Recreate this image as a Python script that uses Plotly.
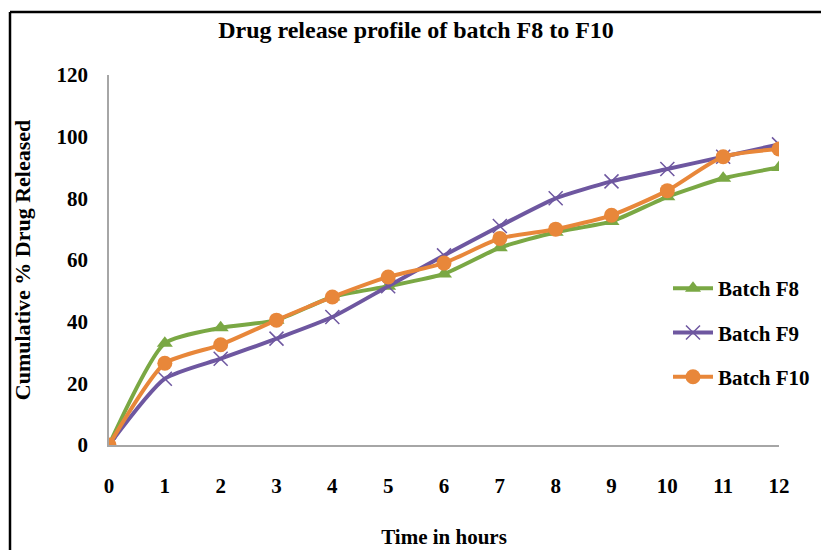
import plotly.graph_objects as go

hours = [0, 1, 2, 3, 4, 5, 6, 7, 8, 9, 10, 11, 12]
batch_f8 = [0, 33, 38, 40.5, 48, 51.5, 55.5, 64, 69, 72.5, 80.5, 86.5, 90]
batch_f9 = [0, 21.5, 28, 34.5, 41.5, 51.5, 61.5, 71, 80, 85.5, 89.5, 93.5, 97.5]
batch_f10 = [0, 26.5, 32.5, 40.5, 48, 54.5, 59, 67, 70, 74.5, 82.5, 93.5, 96]
y_ticks = [0, 20, 40, 60, 80, 100, 120]

title_text = "Drug release profile of batch F8 to F10"
x_title = "Time in hours"
y_title = "Cumulative % Drug Released"

GREEN = "#7AA844"
PURPLE = "#6E57A0"
ORANGE = "#E8873A"
FONT = "Liberation Serif"

fig = go.Figure()
fig.add_trace(go.Scatter(
    x=hours, y=batch_f8, name="<b>Batch F8</b>", mode="lines+markers",
    line=dict(color=GREEN, width=4, shape="spline", smoothing=0.6),
    marker=dict(symbol="triangle-up", size=14, color=GREEN),
    legendgroup="a"))
fig.add_trace(go.Scatter(
    x=hours, y=batch_f9, name="<b>Batch F9</b>", mode="lines+markers",
    line=dict(color=PURPLE, width=4, shape="spline", smoothing=0.6),
    marker=dict(symbol="x-thin", size=14, color=PURPLE,
                line=dict(color=PURPLE, width=1.5)),
    legendgroup="b"))
fig.add_trace(go.Scatter(
    x=hours, y=batch_f10, name="<b>Batch F10</b>", mode="lines+markers",
    line=dict(color=ORANGE, width=4, shape="spline", smoothing=0.6),
    marker=dict(symbol="circle", size=15, color=ORANGE),
    legendgroup="c"))

W, H = 821, 550
ml, mr, mt, mb = 109, 42, 75, 105
pw, ph = W - ml - mr, H - mt - mb

def px_x(p):
    return (p - ml) / pw

def px_y(p):
    return (H - mb - p) / ph

fig.update_layout(
    width=W, height=H,
    margin=dict(l=ml, r=mr, t=mt, b=mb, autoexpand=False),
    paper_bgcolor="white", plot_bgcolor="white",
    font=dict(family=FONT, color="black"),
    title=dict(text="<b>" + title_text + "</b>", x=px_x(416), xref="paper",
               xanchor="center", y=1 - 30 / H, yanchor="middle",
               font=dict(size=24, family=FONT), automargin=False),
    showlegend=True,
    legend=dict(x=px_x(668), y=px_y(268), xanchor="left", yanchor="top",
                xref="paper", yref="paper", bgcolor="rgba(0,0,0,0)",
                font=dict(size=21, family=FONT), tracegroupgap=14,
                itemwidth=40),
    xaxis=dict(range=[0, 12], tickmode="array", tickvals=hours,
               ticktext=["<b>%d</b>" % h for h in hours],
               showgrid=False, zeroline=False, showline=True,
               linecolor="#A6A6A6", linewidth=1.5, ticks="",
               automargin=False,
               ticklabelstandoff=21, tickfont=dict(size=21, family=FONT),
               title=dict(text="<b>" + x_title + "</b>", standoff=32,
                          font=dict(size=21, family=FONT))),
    yaxis=dict(range=[0, 120], tickmode="array", tickvals=y_ticks,
               ticktext=["<b>%d</b>" % v for v in y_ticks],
               showgrid=False, zeroline=False, showline=True,
               linecolor="#A6A6A6", linewidth=1.5, ticks="",
               automargin=False,
               ticklabelstandoff=15, tickfont=dict(size=21, family=FONT),
               title=dict(text="<b>" + y_title + "</b>", standoff=20,
                          font=dict(size=22, family=FONT))),
    shapes=[
        dict(type="line", xref="paper", yref="paper",
             x0=px_x(10), x1=px_x(10), y0=px_y(12), y1=px_y(H + 5),
             line=dict(color="black", width=2.5)),
        dict(type="line", xref="paper", yref="paper",
             x0=px_x(10), x1=px_x(W + 5), y0=px_y(12), y1=px_y(12),
             line=dict(color="black", width=2.5)),
    ],
)

fig.write_html("out.html",
               config={"displayModeBar": False},
               post_script="document.body.style.margin='0px';"
                           "document.body.style.overflow='hidden';")
